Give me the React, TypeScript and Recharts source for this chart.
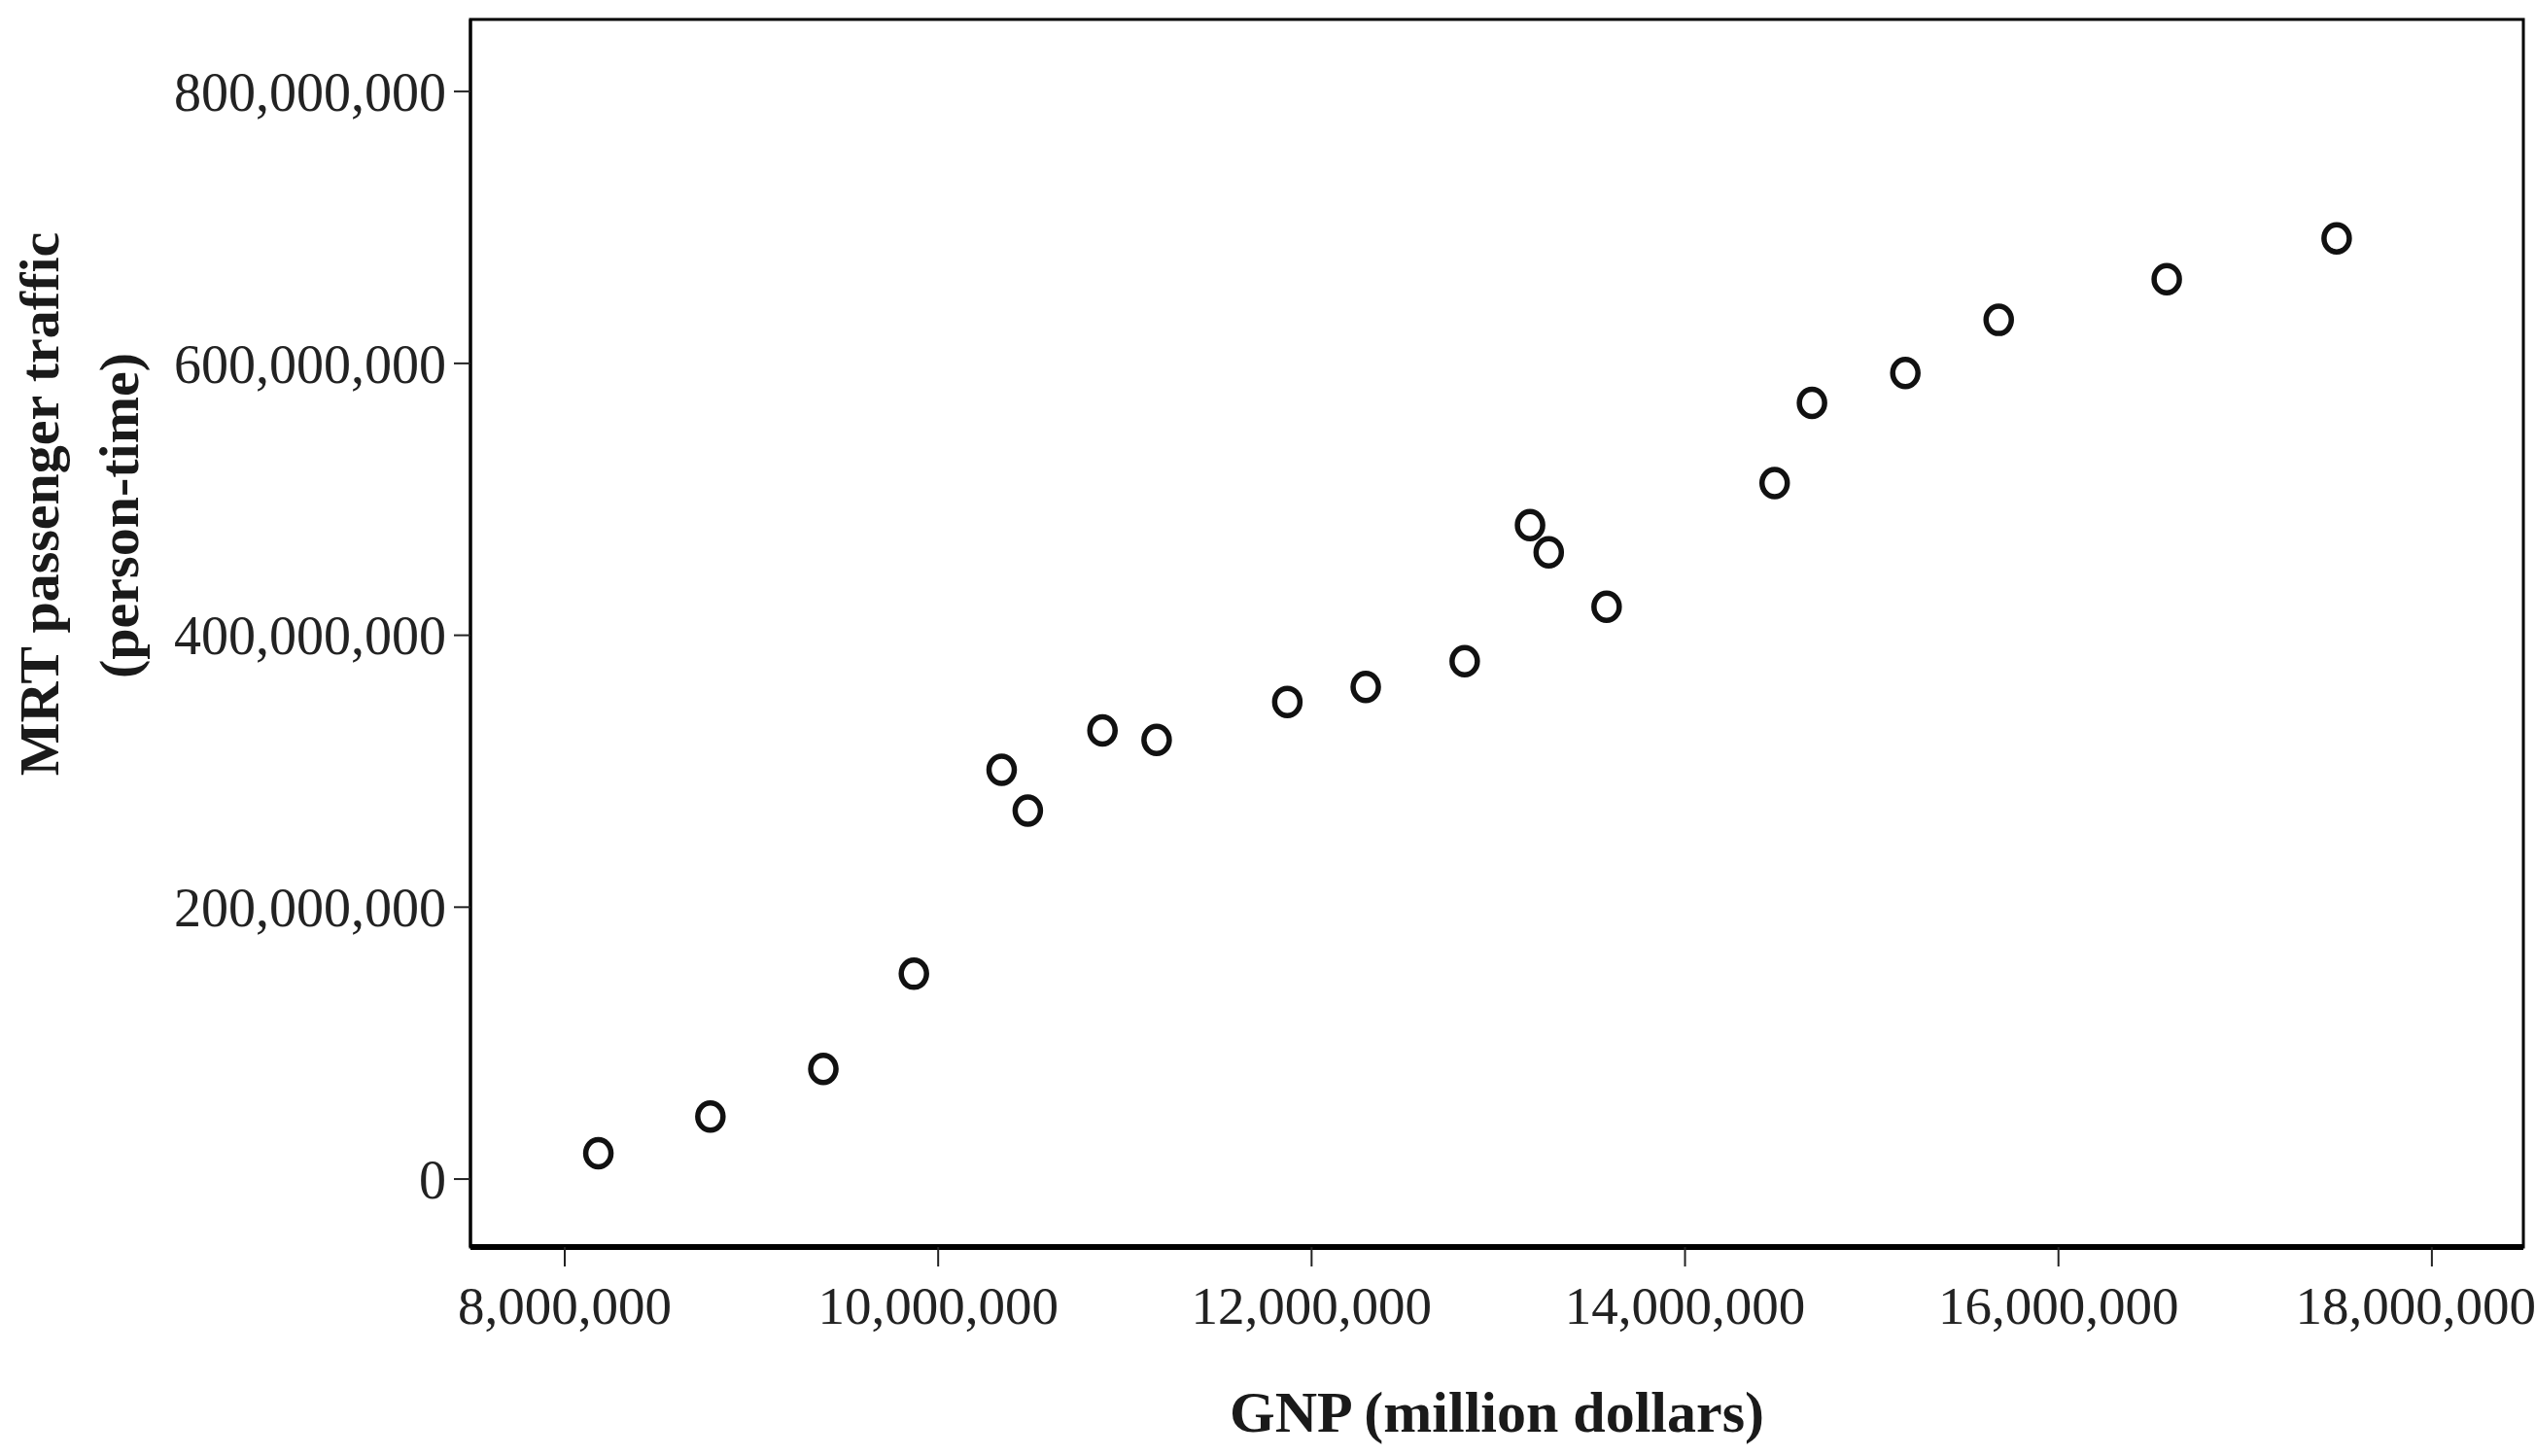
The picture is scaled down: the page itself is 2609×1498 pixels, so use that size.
import { ScatterChart, Scatter, XAxis, YAxis, ReferenceArea, Label } from "recharts";

// GNP (million dollars) vs MRT passenger traffic (person-time)
const gnp = [
  8180000, 8780000, 9385000, 9870000, 10340000, 10480000, 10880000, 11170000, 11870000, 12290000,
  12820000, 13170000, 13270000, 13580000, 14480000, 14680000, 15180000, 15680000, 16580000, 17490000,
];
const traffic = [
  19000000, 46000000, 81000000, 151000000, 301000000, 271000000, 330000000, 323000000, 351000000, 362000000,
  381000000, 481000000, 461000000, 421000000, 512000000, 571000000, 593000000, 632000000, 662000000, 692000000,
];
const xTicks = [8000000, 10000000, 12000000, 14000000, 16000000, 18000000];
const yTicks = [0, 200000000, 400000000, 600000000, 800000000];
const xDomain = [7495000, 18490000];
const yDomain = [-50000000, 853000000];

const points = gnp.map((x, i) => ({ x, y: traffic[i] }));

const FONT = "'Liberation Serif', 'Times New Roman', serif";
const fmt = (v: number) => v.toLocaleString("en-US");

// eslint-disable-next-line @typescript-eslint/no-explicit-any
const Ring = (props: any) => (
  <ellipse cx={props.cx} cy={props.cy} rx={13} ry={14} fill="none" stroke="#111" strokeWidth={5.5} />
);

// eslint-disable-next-line @typescript-eslint/no-explicit-any
const YTitle = (props: any) => {
  const vb = props.viewBox;
  const cy = vb.y + vb.height / 2 - 133;
  const x1 = vb.x - 124;
  const x2 = vb.x - 42;
  const style = { fontFamily: FONT, fontWeight: 700, fontSize: 58, fill: "#1a1a1a" };
  return (
    <g>
      <text x={x1} y={cy} textAnchor="middle" transform={`rotate(-90, ${x1}, ${cy})`} style={style}>
        MRT passenger traffic
      </text>
      <text x={x2} y={cy + 12} textAnchor="middle" transform={`rotate(-90, ${x2}, ${cy + 12})`} style={style}>
        (person-time)
      </text>
    </g>
  );
};

// eslint-disable-next-line @typescript-eslint/no-explicit-any
const XTitle = (props: any) => {
  const vb = props.viewBox;
  return (
    <text
      x={vb.x + vb.width / 2}
      y={vb.y + 190}
      textAnchor="middle"
      style={{ fontFamily: FONT, fontWeight: 700, fontSize: 60, fill: "#1a1a1a" }}
    >
      GNP (million dollars)
    </text>
  );
};

export default function App() {
  return (
    <div style={{ position: "absolute", left: 0, top: 0, background: "#fff" }}>
      <ScatterChart width={2609} height={1498} margin={{ top: 20, right: 13, bottom: 95, left: 184 }}>
        <XAxis
          dataKey="x" type="number" domain={xDomain} ticks={xTicks} allowDataOverflow
          tickFormatter={fmt} height={120}
          axisLine={{ stroke: "#000", strokeWidth: 6 }}
          tickLine={{ stroke: "#222", strokeWidth: 2 }}
          tickSize={20} tickMargin={20}
          tick={{ fill: "#222", fontSize: 55, fontFamily: FONT }}
        >
          <Label content={<XTitle />} />
        </XAxis>
        <YAxis
          dataKey="y" type="number" domain={yDomain} ticks={yTicks} allowDataOverflow
          tickFormatter={fmt} width={300}
          axisLine={{ stroke: "#000", strokeWidth: 3 }}
          tickLine={{ stroke: "#222", strokeWidth: 2 }}
          tickSize={17} tickMargin={8}
          tick={{ fill: "#222", fontSize: 56, fontFamily: FONT }}
        >
          <Label content={<YTitle />} />
        </YAxis>
        <ReferenceArea
          x1={xDomain[0]} x2={xDomain[1]} y1={yDomain[0]} y2={yDomain[1]}
          fill="none" stroke="#000" strokeWidth={3} fillOpacity={0}
        />
        <Scatter data={points} shape={<Ring />} isAnimationActive={false} />
      </ScatterChart>
    </div>
  );
}
